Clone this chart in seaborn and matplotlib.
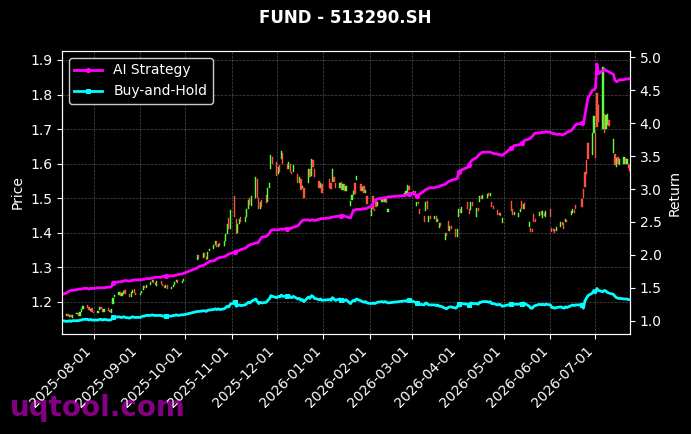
import numpy as np
import pandas as pd
import matplotlib
matplotlib.use("Agg")
import matplotlib.pyplot as plt
import matplotlib.dates as mdates
import seaborn as sns

TITLE = "FUND - 513290.SH"
WATERMARK = "uqtool.com"
START, END = "2025-07-11", "2026-07-24"

# exchange holidays (no candles)
HOLIDAYS = ["2025-10-01", "2025-10-02", "2025-10-03", "2025-10-06", "2025-10-07",
            "2025-10-08", "2026-01-01", "2026-01-02", "2026-02-16", "2026-02-17",
            "2026-02-18", "2026-02-19", "2026-02-20", "2026-02-23", "2026-04-06",
            "2026-05-01", "2026-05-04", "2026-05-05", "2026-06-19"]

# trade points marked on the return curves
MARKER_DATES = ["2025-08-14", "2025-09-18", "2025-11-03", "2025-12-08", "2026-01-13",
                "2026-02-27", "2026-03-04", "2026-04-01", "2026-04-08", "2026-05-06",
                "2026-05-13", "2026-06-22"]

opens = [
    1.155, 1.160, 1.166, 1.157, 1.163, 1.154, 1.164, 1.169, 1.160, 1.171, 1.179, 1.190, 1.184, 1.175, 1.181,
    1.172, 1.167, 1.176, 1.186, 1.179, 1.171, 1.181, 1.176, 1.169, 1.195, 1.213, 1.219, 1.229, 1.217, 1.224,
    1.233, 1.223, 1.214, 1.227, 1.236, 1.227,
    1.221, 1.226, 1.233, 1.246, 1.241, 1.249, 1.257, 1.263, 1.256, 1.247, 1.259, 1.253, 1.246, 1.239, 1.249,
    1.237, 1.243, 1.249, 1.257, 1.263, 1.254, 1.259,
    1.320, 1.336, 1.326, 1.341, 1.331, 1.323, 1.346, 1.353, 1.364, 1.376, 1.359, 1.369, 1.361, 1.376, 1.396,
    1.442, 1.411,
    1.505, 1.440, 1.400, 1.425, 1.445, 1.430, 1.445, 1.470, 1.500, 1.478, 1.500, 1.555, 1.500, 1.470, 1.495,
    1.510, 1.488, 1.530, 1.585, 1.620,
    1.605, 1.570, 1.595, 1.612, 1.630, 1.600, 1.585, 1.600, 1.575, 1.575, 1.570, 1.545, 1.555, 1.530, 1.530,
    1.545, 1.585, 1.565, 1.610, 1.585, 1.550, 1.530, 1.540,
    1.555, 1.545, 1.548, 1.560, 1.545, 1.530, 1.548, 1.525, 1.540, 1.520, 1.478, 1.495, 1.510, 1.545, 1.552,
    1.540, 1.520, 1.535, 1.515, 1.505,
    1.448, 1.505, 1.470, 1.492, 1.478, 1.488, 1.503, 1.490, 1.498, 1.460, 1.505, 1.512, 1.515, 1.535,
    1.510, 1.520, 1.478, 1.490, 1.470, 1.448, 1.462, 1.492, 1.432, 1.448, 1.440, 1.448, 1.432, 1.415, 1.428,
    1.380, 1.398, 1.435, 1.405, 1.420, 1.410, 1.388,
    1.445, 1.470, 1.458, 1.490, 1.468, 1.465, 1.488, 1.445, 1.472, 1.490, 1.505, 1.498, 1.500, 1.515, 1.505,
    1.490, 1.478, 1.465, 1.450, 1.458, 1.428,
    1.492, 1.470, 1.452, 1.445, 1.460, 1.492, 1.470, 1.485, 1.418, 1.415, 1.412, 1.455, 1.440, 1.448, 1.462,
    1.442, 1.458, 1.445,
    1.468, 1.415, 1.410, 1.412, 1.405, 1.418, 1.432, 1.428, 1.430, 1.438, 1.450, 1.458, 1.465, 1.480, 1.498,
    1.528, 1.575, 1.610, 1.660, 1.625, 1.690,
    1.690, 1.805, 1.770, 1.700, 1.745, 1.700, 1.712, 1.725, 1.632, 1.628, 1.590, 1.618, 1.595, 1.598, 1.615,
    1.600, 1.598, 1.595,
]

closes = [
    1.160, 1.165, 1.158, 1.162, 1.155, 1.163, 1.168, 1.160, 1.172, 1.178, 1.188, 1.183, 1.176, 1.180, 1.172,
    1.168, 1.175, 1.185, 1.178, 1.172, 1.180, 1.175, 1.170, 1.178, 1.212, 1.220, 1.228, 1.218, 1.225, 1.232,
    1.222, 1.215, 1.228, 1.235, 1.226, 1.220,
    1.225, 1.232, 1.245, 1.240, 1.250, 1.258, 1.262, 1.255, 1.248, 1.260, 1.252, 1.245, 1.240, 1.248, 1.238,
    1.242, 1.250, 1.258, 1.262, 1.255, 1.260, 1.265,
    1.335, 1.325, 1.340, 1.330, 1.322, 1.345, 1.352, 1.365, 1.375, 1.358, 1.368, 1.362, 1.375, 1.395, 1.425,
    1.410, 1.465,
    1.445, 1.395, 1.425, 1.440, 1.430, 1.445, 1.470, 1.495, 1.480, 1.505, 1.560, 1.500, 1.470, 1.490, 1.475,
    1.485, 1.530, 1.545, 1.625, 1.600,
    1.565, 1.590, 1.575, 1.638, 1.600, 1.585, 1.605, 1.575, 1.570, 1.595, 1.545, 1.560, 1.525, 1.535, 1.500,
    1.585, 1.560, 1.612, 1.590, 1.560, 1.530, 1.545, 1.515,
    1.530, 1.528, 1.585, 1.548, 1.530, 1.545, 1.525, 1.540, 1.520, 1.535, 1.492, 1.508, 1.520, 1.512, 1.565,
    1.520, 1.532, 1.515, 1.525, 1.482,
    1.472, 1.470, 1.462, 1.475, 1.490, 1.500, 1.490, 1.500, 1.486, 1.470, 1.515, 1.520, 1.538, 1.525,
    1.522, 1.500, 1.490, 1.482, 1.455, 1.432, 1.490, 1.470, 1.448, 1.440, 1.448, 1.432, 1.440, 1.428, 1.420,
    1.398, 1.390, 1.405, 1.420, 1.410, 1.388, 1.412,
    1.470, 1.458, 1.475, 1.468, 1.455, 1.488, 1.478, 1.472, 1.462, 1.505, 1.498, 1.510, 1.512, 1.505, 1.515,
    1.475, 1.470, 1.450, 1.458, 1.448, 1.442,
    1.462, 1.452, 1.460, 1.458, 1.470, 1.470, 1.482, 1.470, 1.432, 1.402, 1.402, 1.432, 1.432, 1.460, 1.450,
    1.462, 1.448, 1.462,
    1.445, 1.402, 1.405, 1.400, 1.418, 1.432, 1.422, 1.412, 1.440, 1.432, 1.462, 1.470, 1.458, 1.470, 1.475,
    1.500, 1.532, 1.570, 1.612, 1.690, 1.738,
    1.615, 1.705, 1.720, 1.880, 1.690, 1.740, 1.745, 1.710, 1.672, 1.595, 1.615, 1.600, 1.612, 1.620, 1.598,
    1.612, 1.588, 1.578,
]

ai_strategy = [
    1.40, 1.42, 1.44, 1.45, 1.46, 1.46, 1.47, 1.48, 1.48, 1.48, 1.49, 1.49, 1.48, 1.49, 1.49,
    1.49, 1.50, 1.50, 1.50, 1.50, 1.50, 1.51, 1.51, 1.52, 1.57, 1.58, 1.59, 1.59, 1.60, 1.60,
    1.61, 1.60, 1.61, 1.61, 1.62, 1.62,
    1.62, 1.62, 1.63, 1.63, 1.64, 1.64, 1.65, 1.65, 1.66, 1.66, 1.66, 1.67, 1.67, 1.68, 1.68,
    1.68, 1.68, 1.69, 1.69, 1.70, 1.71, 1.72,
    1.80, 1.82, 1.84, 1.85, 1.87, 1.88, 1.90, 1.91, 1.92, 1.94, 1.95, 1.96, 1.97, 1.98, 2.00,
    2.01, 2.02,
    2.04, 2.05, 2.06, 2.07, 2.08, 2.10, 2.12, 2.14, 2.15, 2.16, 2.18, 2.18, 2.20, 2.24, 2.27,
    2.28, 2.30, 2.33, 2.37, 2.38,
    2.38, 2.38, 2.39, 2.39, 2.39, 2.40, 2.40, 2.40, 2.41, 2.42, 2.44, 2.47, 2.50, 2.52, 2.53,
    2.53, 2.52, 2.53, 2.53, 2.52, 2.54, 2.55, 2.55,
    2.56, 2.57, 2.57, 2.58, 2.58, 2.59, 2.59, 2.60, 2.59, 2.58, 2.56, 2.62, 2.68, 2.68, 2.69,
    2.69, 2.70, 2.70, 2.70, 2.71,
    2.74, 2.78, 2.82, 2.84, 2.85, 2.86, 2.86, 2.87, 2.87, 2.88, 2.90, 2.91, 2.92, 2.93,
    2.94, 2.92, 2.90, 2.91, 2.92, 2.97, 2.99, 3.00, 3.01, 3.02, 3.02, 3.03, 3.03, 3.04, 3.05,
    3.07, 3.09, 3.11, 3.12, 3.13, 3.15, 3.16,
    3.26, 3.28, 3.29, 3.33, 3.37, 3.41, 3.44, 3.48, 3.51, 3.53, 3.55, 3.56, 3.56, 3.56, 3.56,
    3.55, 3.54, 3.53, 3.52, 3.52, 3.51,
    3.62, 3.64, 3.66, 3.67, 3.68, 3.70, 3.72, 3.74, 3.76, 3.78, 3.80, 3.83, 3.85, 3.85, 3.86,
    3.86, 3.86, 3.87,
    3.86, 3.85, 3.84, 3.84, 3.83, 3.83, 3.82, 3.83, 3.84, 3.86, 3.89, 3.92, 3.95, 3.98, 4.00,
    3.99, 4.12, 4.25, 4.38, 4.50, 4.51,
    4.53, 4.90, 4.75, 4.80, 4.82, 4.80, 4.79, 4.78, 4.74, 4.65, 4.63, 4.64, 4.66, 4.66, 4.67,
    4.67, 4.67, 4.68,
]

buy_and_hold = [
    1.00, 0.99, 0.99, 1.00, 0.99, 1.00, 1.00, 1.00, 1.01, 1.01, 1.02, 1.02, 1.01, 1.02, 1.01,
    1.01, 1.01, 1.02, 1.02, 1.01, 1.02, 1.01, 1.01, 1.02, 1.05, 1.05, 1.06, 1.05, 1.05, 1.06,
    1.05, 1.04, 1.05, 1.06, 1.05, 1.05,
    1.05, 1.06, 1.07, 1.07, 1.08, 1.08, 1.09, 1.08, 1.08, 1.08, 1.08, 1.07, 1.07, 1.07, 1.07,
    1.07, 1.08, 1.08, 1.09, 1.08, 1.09, 1.09,
    1.14, 1.14, 1.15, 1.15, 1.14, 1.16, 1.16, 1.17, 1.18, 1.17, 1.18, 1.17, 1.18, 1.20, 1.22,
    1.21, 1.25,
    1.28, 1.22, 1.23, 1.24, 1.23, 1.24, 1.26, 1.28, 1.27, 1.29, 1.33, 1.29, 1.26, 1.28, 1.27,
    1.28, 1.31, 1.33, 1.38, 1.37,
    1.35, 1.37, 1.36, 1.39, 1.37, 1.37, 1.38, 1.36, 1.35, 1.37, 1.33, 1.34, 1.31, 1.32, 1.29,
    1.36, 1.34, 1.38, 1.37, 1.34, 1.32, 1.33, 1.31,
    1.32, 1.31, 1.35, 1.33, 1.31, 1.33, 1.31, 1.32, 1.30, 1.32, 1.26, 1.29, 1.31, 1.30, 1.33,
    1.30, 1.29, 1.28, 1.29, 1.27,
    1.26, 1.27, 1.26, 1.27, 1.28, 1.29, 1.28, 1.29, 1.28, 1.27, 1.30, 1.30, 1.31, 1.31,
    1.29, 1.28, 1.27, 1.27, 1.25, 1.24, 1.27, 1.26, 1.24, 1.24, 1.24, 1.23, 1.24, 1.22, 1.22,
    1.19, 1.18, 1.20, 1.21, 1.21, 1.19, 1.21,
    1.25, 1.24, 1.26, 1.25, 1.24, 1.27, 1.26, 1.26, 1.25, 1.28, 1.28, 1.29, 1.29, 1.28, 1.29,
    1.26, 1.26, 1.24, 1.25, 1.24, 1.22,
    1.25, 1.24, 1.25, 1.25, 1.26, 1.26, 1.27, 1.26, 1.22, 1.19, 1.19, 1.22, 1.23, 1.25, 1.24,
    1.25, 1.24, 1.25,
    1.24, 1.20, 1.20, 1.19, 1.20, 1.21, 1.20, 1.19, 1.21, 1.20, 1.23, 1.24, 1.23, 1.24, 1.24,
    1.19, 1.30, 1.34, 1.38, 1.42, 1.46,
    1.42, 1.49, 1.46, 1.44, 1.46, 1.45, 1.43, 1.42, 1.40, 1.37, 1.35, 1.34, 1.34, 1.33, 1.33,
    1.33, 1.32, 1.32,
]

UP_COLOR = "#5cff3a"
DOWN_COLOR = "#ff4f3f"
AI_COLOR = "#ff00ff"
BH_COLOR = "#00ffff"

dates = pd.bdate_range(START, END)
dates = dates[~dates.isin(pd.to_datetime(HOLIDAYS))]

df = pd.DataFrame({
    "date": dates,
    "open": opens,
    "close": closes,
    "ai": ai_strategy,
    "bh": buy_and_hold,
})
marks = list(dates.get_indexer(pd.to_datetime(MARKER_DATES)))

plt.style.use("dark_background")
fig, ax = plt.subplots(figsize=(6.91, 4.34), dpi=100)
fig.subplots_adjust(left=0.0897, right=0.9117, top=0.8825, bottom=0.2304)

# candle bodies on the price axis
up = df["close"] >= df["open"]
body_low = df[["open", "close"]].min(axis=1)
body_height = (df["close"] - df["open"]).abs()
ax.bar(df["date"], body_height, bottom=body_low, width=0.8,
       color=np.where(up, UP_COLOR, DOWN_COLOR), linewidth=0.3,
       edgecolor=np.where(up, UP_COLOR, DOWN_COLOR))
ax.set_ylim(1.107, 1.926)
ax.set_ylabel("Price")
ax.grid(True, color="gray", linestyle="--", linewidth=0.5, alpha=0.6)

# return curves on the right axis
ax2 = ax.twinx()
sns.lineplot(data=df, x="date", y="ai", ax=ax2, color=AI_COLOR, linewidth=2,
             marker="o", markersize=3, markevery=marks, markeredgecolor=AI_COLOR,
             label="AI Strategy")
sns.lineplot(data=df, x="date", y="bh", ax=ax2, color=BH_COLOR, linewidth=2,
             marker="s", markersize=3, markevery=marks, markeredgecolor=BH_COLOR,
             label="Buy-and-Hold")
ax2.set_ylim(0.798, 5.096)
ax2.set_ylabel("Return")
ax2.set_xlabel("")
ax2.grid(False)
ax2.legend(loc="upper left", fontsize=10, facecolor="black", edgecolor="#cccccc",
           framealpha=1)

ax.set_xlim(df["date"].iloc[0], df["date"].iloc[-1])
ax.xaxis.set_major_locator(mdates.MonthLocator())
ax.xaxis.set_major_formatter(mdates.DateFormatter("%Y-%m-%d"))
plt.setp(ax.get_xticklabels(), rotation=45, ha="right")
ax.set_xlabel("")

fig.suptitle(TITLE, y=0.958, va="center", fontsize=12, fontweight="bold")
fig.text(0.0145, 0.041, WATERMARK, fontsize=20, fontweight="bold",
         color="#8b008b", alpha=0.95, zorder=-1)

fig.savefig("out.png", dpi=100, facecolor=fig.get_facecolor())
